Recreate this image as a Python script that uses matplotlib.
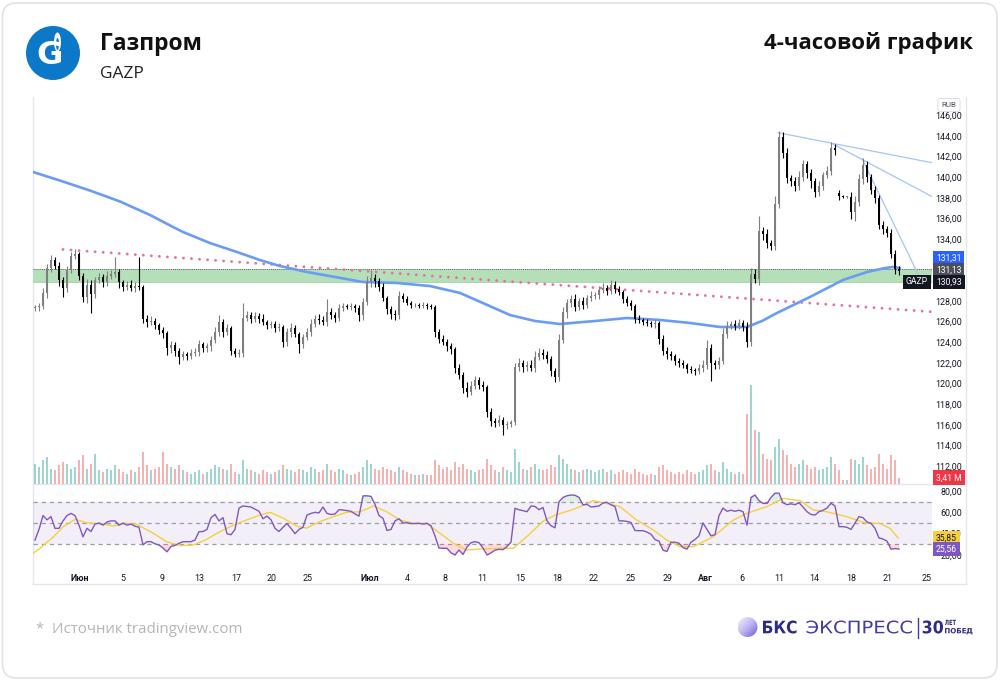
import numpy as np
import matplotlib.pyplot as plt
from matplotlib.patches import FancyBboxPatch, Circle, Ellipse, PathPatch
from matplotlib.colors import LinearSegmentedColormap
from matplotlib.ticker import FuncFormatter, FixedLocator
from matplotlib.textpath import TextPath
from matplotlib.font_manager import FontProperties
from matplotlib.transforms import Affine2D

plt.rcParams['font.family'] = ['Open Sans', 'DejaVu Sans']

W, H = 1000, 680

# 4h closes, GAZP, late May .. 22 Aug
CLOSE = [
    127.4, 127.5, 128.8, 131.2, 132.0, 131.4, 130.0, 129.3, 131.0, 132.4,
    132.6, 130.4, 128.4, 129.6, 128.7, 130.0, 130.3, 129.8, 130.4, 130.6,
    130.8, 129.8, 129.4, 129.6, 129.3, 129.5, 129.4, 126.3, 126.0, 126.1,
    125.7, 125.2, 124.9, 123.4, 123.7, 123.2, 122.6, 122.9, 122.7, 123.0,
    123.1, 123.8, 123.4, 123.6, 124.2, 125.0, 126.0, 125.0, 125.4, 123.2,
    122.9, 123.0, 126.4, 126.6, 126.3, 126.5, 126.3, 126.0, 125.7, 125.8,
    125.4, 125.5, 124.0, 125.0, 125.4, 124.8, 123.8, 124.5, 125.0, 125.8,
    126.3, 126.2, 126.0, 126.9, 126.6, 126.4, 127.3, 127.5, 127.4, 127.5,
    127.3, 126.6, 127.9, 129.8, 130.2, 129.9, 129.4, 128.3, 127.2, 126.7,
    126.6, 128.5, 128.2, 127.8, 127.6, 127.6, 127.5, 127.6, 127.5, 127.4,
    125.0, 124.3, 124.0, 123.6, 123.3, 121.5, 120.8, 119.6, 119.2, 119.8,
    120.3, 119.9, 119.7, 117.2, 116.4, 116.2, 116.5, 116.0, 116.1, 116.3,
    121.6, 122.0, 121.6, 121.8, 121.5, 122.6, 123.0, 122.8, 122.4, 121.2,
    120.6, 124.2, 126.9, 127.8, 128.2, 127.4, 128.0, 127.6, 128.3, 128.5,
    128.6, 129.1, 129.3, 129.0, 129.6, 129.2, 128.9, 128.2, 127.8, 127.5,
    126.3, 126.2, 126.0, 125.9, 125.8, 125.9, 124.3, 123.2, 122.9, 122.7,
    122.2, 122.0, 121.8, 121.4, 121.3, 121.2, 121.5, 121.8, 123.4, 122.0,
    121.8, 122.2, 124.8, 125.6, 125.8, 125.6, 125.9, 125.5, 124.0, 130.6,
    130.1, 134.8, 134.5, 133.6, 133.3, 137.4, 143.9, 142.4, 139.9, 139.6,
    139.2, 140.0, 141.3, 140.4, 139.6, 138.6, 139.2, 140.2, 140.6, 142.8,
    142.6, 138.2, 138.1, 138.1, 136.6, 137.6, 139.8, 141.2, 140.0, 138.8,
    138.0, 135.4, 135.0, 134.6, 132.6, 131.1, 130.93,
]
FIRST_OPEN = 127.3
GAP_OPEN = {201: 138.5}

# wick lengths above / below the body, tenths of a rouble
WICK_UP = [
    2, 3, 5, 4, 5, 3, 4, 3, 4, 4,
    4, 2, 3, 5, 4, 3, 4, 3, 5, 4,
    15, 3, 2, 3, 4, 3, 28, 2, 3, 4,
    3, 2, 3, 2, 4, 3, 2, 3, 2, 3,
    3, 4, 2, 3, 4, 5, 6, 3, 4, 2,
    2, 3, 14, 4, 3, 4, 3, 4, 2, 3,
    3, 4, 2, 4, 5, 3, 2, 3, 4, 5,
    3, 4, 3, 13, 4, 3, 4, 3, 2, 3,
    2, 3, 4, 6, 8, 4, 3, 3, 2, 3,
    4, 5, 3, 3, 2, 2, 2, 3, 2, 2,
    2, 3, 4, 3, 3, 2, 4, 3, 5, 4,
    4, 3, 3, 2, 4, 3, 4, 3, 3, 2,
    4, 5, 3, 4, 5, 6, 4, 3, 4, 3,
    3, 6, 5, 4, 4, 5, 3, 4, 3, 5,
    3, 4, 4, 3, 4, 3, 3, 2, 3, 3,
    2, 3, 2, 3, 2, 3, 2, 4, 3, 3,
    2, 3, 3, 2, 3, 2, 4, 5, 8, 4,
    3, 4, 6, 5, 3, 4, 4, 3, 5, 6,
    5, 14, 4, 5, 3, 8, 6, 5, 4, 3,
    4, 6, 4, 3, 4, 3, 4, 3, 5, 6,
    4, 3, 1, 1, 5, 6, 5, 7, 4, 3,
    4, 3, 4, 3, 4, 3, 3,
]
WICK_DN = [
    3, 4, 3, 5, 4, 3, 5, 9, 4, 3,
    3, 4, 5, 6, 19, 4, 3, 4, 3, 3,
    3, 5, 4, 3, 3, 4, 3, 4, 5, 3,
    4, 4, 5, 6, 4, 5, 7, 3, 4, 3,
    3, 4, 3, 3, 4, 3, 4, 5, 3, 4,
    3, 3, 4, 3, 4, 3, 4, 3, 4, 3,
    4, 3, 5, 4, 5, 3, 8, 4, 3, 4,
    3, 4, 3, 4, 3, 4, 3, 3, 2, 3,
    4, 5, 4, 3, 4, 5, 4, 3, 5, 4,
    4, 3, 3, 2, 3, 2, 2, 2, 3, 2,
    5, 4, 3, 4, 4, 5, 4, 5, 5, 3,
    3, 4, 4, 4, 5, 4, 3, 10, 4, 3,
    3, 4, 5, 4, 3, 4, 3, 4, 4, 5,
    5, 4, 3, 5, 4, 4, 3, 4, 3, 3,
    3, 4, 3, 4, 3, 4, 3, 4, 3, 4,
    4, 3, 3, 3, 3, 4, 5, 4, 5, 4,
    4, 4, 3, 4, 3, 4, 3, 4, 4, 18,
    4, 4, 3, 4, 3, 4, 3, 4, 5, 4,
    4, 5, 6, 5, 4, 4, 4, 5, 5, 4,
    5, 4, 4, 5, 6, 5, 4, 4, 3, 4,
    4, 4, 1, 1, 6, 8, 4, 5, 5, 4,
    5, 4, 5, 4, 4, 5, 4,
]

# volume, millions of shares
VOLUME = [
    12, 10, 14, 16, 9, 8, 11, 13, 12, 9,
    10, 14, 17, 9, 12, 18, 8, 7, 9, 8,
    11, 9, 7, 6, 8, 7, 10, 19, 11, 8,
    9, 10, 19, 12, 10, 9, 11, 8, 7, 6,
    7, 8, 6, 7, 9, 11, 10, 9, 8, 12,
    7, 6, 14, 9, 8, 7, 6, 8, 7, 6,
    7, 8, 11, 9, 8, 7, 9, 8, 7, 10,
    9, 7, 8, 12, 8, 7, 9, 8, 6, 5,
    6, 7, 10, 14, 12, 9, 8, 10, 9, 8,
    7, 10, 8, 7, 6, 5, 5, 6, 5, 5,
    14, 11, 9, 10, 8, 13, 10, 12, 9, 8,
    7, 8, 9, 15, 11, 8, 7, 10, 8, 7,
    21, 13, 9, 8, 10, 12, 9, 8, 9, 11,
    10, 17, 15, 12, 9, 8, 7, 8, 9, 8,
    7, 8, 9, 7, 8, 6, 7, 8, 7, 6,
    9, 7, 6, 5, 6, 5, 10, 11, 8, 7,
    6, 7, 6, 8, 7, 6, 7, 8, 11, 12,
    8, 7, 13, 9, 7, 6, 7, 6, 42, 59,
    32, 31, 18, 15, 14, 22, 27, 20, 17, 12,
    10, 12, 14, 11, 9, 10, 8, 9, 10, 16,
    12, 8, 2, 2, 15, 14, 12, 16, 11, 9,
    10, 18, 12, 9, 17, 14, 3.41,
]

# RSI(14)
RSI = [
    34, 44, 57, 53, 56, 45, 45, 52, 57, 59,
    57, 48, 37, 45, 42, 49, 50, 48, 51, 52,
    52, 48, 50, 48, 49, 47, 46, 29.5, 32.5, 32.5,
    30.5, 29.4, 26.5, 23, 28, 29, 31, 32.5, 32.5, 32.5,
    34, 41.9, 42, 44, 55, 58, 52, 55, 40, 39,
    44, 64, 66, 65.5, 65, 63, 61, 54, 56.5, 53,
    45, 42, 46, 49.5, 45, 40, 44, 46, 57.5, 59,
    60, 59.5, 65, 59, 58, 58.5, 62.5, 62.2, 61.6, 61,
    58.5, 56.5, 75.5, 75.5, 75, 67.5, 57, 54.4, 43, 44,
    52, 54, 50, 50.3, 49.5, 49.5, 49.7, 49, 49.7, 47.5,
    38, 26.5, 26.3, 26.3, 22, 20, 24.7, 20.5, 27.5, 31.5,
    32.5, 31.5, 26.5, 20, 22, 24.5, 25.3, 25, 28, 32,
    63.8, 62.4, 61.6, 60.6, 66, 65.5, 62.5, 64.5, 52, 47.5,
    45.5, 70, 74, 75.6, 76.3, 76, 74, 67, 67.5, 65,
    65.5, 66, 68.8, 69.5, 67, 65.5, 52, 52, 51.5, 50.5,
    43, 42.8, 42.8, 41.5, 39.5, 34.5, 33, 24.5, 23.3, 32,
    32, 31, 27, 25.5, 32, 34.5, 38, 50, 44, 38,
    39, 57, 64, 61, 62, 61, 62, 60.6, 48, 74,
    76.3, 71, 68.4, 68.4, 74, 78, 78, 69, 67.2, 68,
    67.2, 69, 65, 60.6, 58, 57.5, 60.6, 62, 64, 68.5,
    66, 46.6, 46.6, 46, 44, 50, 56, 55, 51, 49.7,
    45, 36, 35, 33, 25.5, 26, 25.56,
]

# RSI moving average (yellow), candle index / value
RSI_MA_X = [-0.5, 1.25, 4.6, 7.1, 10, 12.9, 17, 19.6, 22.9, 25.4, 29.6, 32.9,
            36.25, 39.6, 42.9, 46.25, 49.6, 52.9, 56.25, 58.75, 62.1, 65.4,
            67.9, 71.25, 74.6, 77.9, 81.25, 84.6, 87.9, 91.25, 94.6, 97.9,
            101.25, 104.6, 107.9, 111.25, 116.25, 119.6, 123.75, 127.1, 130.4,
            134, 136.25, 139.6, 142.9, 146.25, 150.4, 154.6, 157.9, 161.25,
            164.6, 169.6, 174.6, 177.9, 182.9, 187.1, 191.25, 194.6, 197.9,
            202.9, 207.9, 211.25, 213.75, 215.8]
RSI_MA_Y = [21.6, 26.3, 37, 46.6, 53.4, 50.3, 49, 47.2, 49.7, 48.8, 40.3, 32.5,
            28.8, 29.4, 34.7, 41.9, 48, 52.8, 57.5, 60, 54.5, 47,
            45.3, 51.3, 56, 60, 60.5, 66, 60.6, 52.8, 49.7, 49.7,
            40.3, 31, 24.7, 25.6, 26.3, 26.3, 40, 52, 58,
            62, 65.3, 71, 68.4, 65.3, 52.8, 43.4, 34.1, 27.8,
            27.8, 37.2, 52.8, 59, 65.3, 73.1, 71, 62.2, 60.6,
            56, 49.7, 49.7, 45, 35.85]

# long moving average (blue), candle index / price
SMA_X = [-0.5, 6.25, 13.75, 21.25, 28.75, 34.5, 37, 43.75, 50.5, 56.25,
         61.25, 68, 75, 82, 90.5, 98.75, 106.25, 112.5, 118.75, 125, 131.25,
         140, 148, 156.25, 163.75, 171.25, 178, 181.75, 185.5, 193.75, 202,
         208, 212.5, 214.5, 216.25]
SMA_Y = [140.51, 139.68, 138.71, 137.65, 136.34, 135.18, 134.69, 133.62,
         132.75, 131.97, 131.39, 130.81, 130.33, 129.84, 129.75, 129.45, 128.78,
         127.71, 126.64, 126.06, 125.77, 126.06, 126.35, 126.16, 125.87, 125.48,
         125.48, 126.06, 126.84, 128.39, 130.04, 130.81, 131.2, 131.3, 131.2]

ZONE_LOW, ZONE_HIGH = 129.8, 131.13
RES_X, RES_Y = [7, 224.25], [133.0, 126.95]
FAN = [([185.75, 224.25], [144.32, 141.41]),
       ([199.5, 224.25], [143.22, 138.13]),
       ([206.75, 221.0], [141.82, 130.42])]

TIME_POS = [11.25, 22, 31.75, 41, 50.25, 59.25, 68.25, 83.75, 93, 102.5, 111.75,
            121.25, 130.5, 139.75, 149, 158.25, 167.5, 176.75, 186, 194.75, 204,
            213.25, 223]
TIME_LBL = ['Июн', '5', '9', '13', '17', '20', '25', 'Июл', '4', '8', '11',
            '15', '18', '22', '25', '29', 'Авг', '6', '11', '14', '18', '21', '25']
MONTHS = ('Июн', 'Июл', 'Авг')
# 130 and 132 sit under the last-value tags, so they are not shown
PRICE_TICKS = [112, 114, 116, 118, 120, 122, 124, 126, 128, 134, 136, 138, 140,
               142, 144, 146]
RSI_TICKS = [20, 40, 60, 80]

LAST_SMA, LAST_LEVEL, LAST_CLOSE = 131.31, 131.13, 130.93
LAST_VOL = 3.41
LAST_RSI_MA, LAST_RSI = 35.85, 25.56

CHART_FONT = ['Roboto', 'DejaVu Sans']


def comma(v, _=None):
    return f'{v:.2f}'.replace('.', ',')


def rect(x0, y0, x1, y1):
    # pixel box (top-left origin) -> figure fraction
    return [x0 / W, 1 - y1 / H, (x1 - x0) / W, (y1 - y0) / H]


def tag(ax, y, text, fc, tc, dy=0, dx=4, ha='left'):
    ax.annotate(text, xy=(1, y), xycoords=('axes fraction', 'data'),
                xytext=(dx, dy), textcoords='offset pixels', ha=ha, va='center',
                fontsize=6.2, color=tc, family=CHART_FONT,
                bbox=dict(boxstyle='square,pad=0.34', fc=fc, ec='none'),
                annotation_clip=False, zorder=20)


def fit_text(ax, s, x0, x1, base, cap, color, weight='normal', family='DejaVu Sans'):
    # draw s as a path stretched into [x0, x1] with the given cap height (pixel coords)
    prop = FontProperties(family=family, weight=weight)
    tp = TextPath((0, 0), s, size=10, prop=prop)
    ext = tp.get_extents()
    cap_ref = TextPath((0, 0), 'Н', size=10, prop=prop).get_extents().height
    tr = (Affine2D().translate(-ext.x0, 0)
          .scale((x1 - x0) / ext.width, -cap / cap_ref)
          .translate(x0, base) + ax.transData)
    ax.add_patch(PathPatch(tp, fc=color, ec='none', transform=tr, zorder=4))


fig = plt.figure(figsize=(W / 100, H / 100), dpi=100, facecolor='white')

# background: card, header, footer
bg = fig.add_axes([0, 0, 1, 1], zorder=0)
bg.set_xlim(0, W)
bg.set_ylim(H, 0)
bg.set_axis_off()

bg.add_patch(FancyBboxPatch((2.5, 3), 994.5, 675, boxstyle='round,pad=0,rounding_size=14',
                            fc='white', ec='#e2e2e2', lw=1.2))

# gazprom logo
bg.add_patch(Circle((53, 53), 27, fc='#0b78c8', ec='none'))
bg.text(50, 56, 'G', color='white', fontsize=23, fontweight='bold',
        family='DejaVu Sans', ha='center', va='center')
bg.add_patch(Ellipse((57.5, 42), 7, 19, fc='white', ec='none'))
bg.add_patch(Ellipse((57.5, 44), 3, 12, fc='#0b78c8', ec='none'))

bg.text(100, 49.5, 'Газпром', fontsize=16.5, fontweight='bold', color='#111111', va='baseline')
bg.text(100, 78.5, 'GAZP', fontsize=12.5, color='#222222', va='baseline')
bg.text(973, 48.5, '4-часовой график', fontsize=16, fontweight='bold', color='#111111',
        ha='right', va='baseline')

bg.text(36, 633, '*  Источник tradingview.com', fontsize=10.8, color='#b5b5b5', va='baseline')

# bks logo
g = np.linspace(0, 1, 80)
gx, gy = np.meshgrid(g, g)
cm = LinearSegmentedColormap.from_list('bks', ['#f6f4ff', '#bdb4f2', '#6a59cf'])
im = bg.imshow((gx + gy) / 2, cmap=cm, extent=(737.5, 757.5, 637, 617),
               aspect='auto', zorder=3)
im.set_clip_path(Circle((747.5, 627), 10, transform=bg.transData))
bg.set_xlim(0, W)
bg.set_ylim(H, 0)
fit_text(bg, 'БКС', 763, 796.5, 633.3, 12.6, '#2e2b86', weight='bold')
fit_text(bg, 'ЭКСПРЕСС', 806.5, 912, 633.3, 12.6, '#433ca2')
bg.plot([918.3, 918.3], [618, 637.5], color='#433ca2', lw=1)
fit_text(bg, '30', 922.7, 943, 633.3, 12.6, '#2e2b86', weight='bold')
fit_text(bg, 'ЛЕТ', 945, 956, 625, 5.2, '#2e2b86', weight='bold')
fit_text(bg, 'ПОБЕ', 945, 966, 633.3, 5.2, '#2e2b86', weight='bold')
fit_text(bg, 'Д', 966.5, 972.5, 633.3, 5.2, '#2e2b86', weight='bold')

# chart frame
fc_line = '#e4e6ec'
bg.plot([33, 33], [97, 584], color=fc_line, lw=1)
bg.plot([966, 966], [97, 584], color=fc_line, lw=1)
bg.plot([33, 966], [584, 584], color=fc_line, lw=1)
bg.plot([33, 966], [483.8, 483.8], color=fc_line, lw=1)

# ---- price panel ----
n = len(CLOSE)
x = np.arange(n)
close = np.array(CLOSE)
opens = np.r_[FIRST_OPEN, close[:-1]]
for k, v in GAP_OPEN.items():
    opens[k] = v
high = np.maximum(opens, close) + np.array(WICK_UP) / 10
low = np.minimum(opens, close) - np.array(WICK_DN) / 10
up = close >= opens

XLIM = (-0.5, 224.25)
price_rect = rect(33, 97, 932, 483.5)

ax_vol = fig.add_axes(price_rect, zorder=1)
ax = fig.add_axes(price_rect, zorder=2, sharex=ax_vol)
ax.patch.set_alpha(0)

vol_col = np.where(up, '#26a69a', '#ef5350')
ax_vol.bar(x, VOLUME, width=0.66, color=vol_col, alpha=0.45, lw=0)
ax_vol.set_ylim(0, 386.5 * 0.6)
ax_vol.set_axis_off()

ax.set_xlim(*XLIM)
ax.set_ylim(110.303, 147.782)

ax.axhspan(ZONE_LOW, ZONE_HIGH, fc='#b5dfb8', ec='none', zorder=1)
ax.axhline(ZONE_LOW, color='#9ccfa0', lw=0.6, zorder=1)
ax.axhline(ZONE_HIGH, color='#3a3a3a', lw=0.6, ls=(0, (1, 1.5)), zorder=2)

ax.plot(RES_X, RES_Y, color='#e8739a', lw=2.1, ls=(0, (0.01, 2.75)),
        dash_capstyle='round', zorder=2)
ax.plot(SMA_X, SMA_Y, color='#6a9cf4', lw=1.9, solid_capstyle='round',
        solid_joinstyle='round', zorder=3)
for fx, fy in FAN:
    ax.plot(fx, fy, color='#a6c5f5', lw=0.9, zorder=3)

candle_col = np.where(up, '#7f7f7f', '#000000')
ax.vlines(x, low, high, colors=candle_col, lw=0.8, zorder=4)
ax.bar(x, np.maximum(np.abs(close - opens), 0.06), bottom=np.minimum(opens, close),
       width=0.7, color=candle_col, lw=0, zorder=5)

ax.yaxis.tick_right()
ax.yaxis.set_major_locator(FixedLocator(PRICE_TICKS))
ax.yaxis.set_major_formatter(FuncFormatter(comma))
ax.tick_params(axis='y', length=0, pad=21.6, labelsize=6.4, labelcolor='#131722')
for t in ax.get_yticklabels():
    t.set_horizontalalignment('right')
    t.set_family(CHART_FONT)
ax.tick_params(axis='x', bottom=False, labelbottom=False)
for s in ax.spines.values():
    s.set_visible(False)

ax.annotate('RUB', xy=(1, 1), xycoords='axes fraction', xytext=(17, -8),
            textcoords='offset pixels', ha='center', va='center', fontsize=5.8,
            color='#50535e', family=CHART_FONT,
            bbox=dict(boxstyle='round,pad=0.45,rounding_size=0.3', fc='white', ec='#d6d9e0', lw=0.6),
            annotation_clip=False, zorder=20)

tag(ax, LAST_SMA, comma(LAST_SMA), '#2962ff', 'white', dy=8.4)
tag(ax, LAST_LEVEL, comma(LAST_LEVEL), '#4c4f59', 'white', dy=-1.3)
tag(ax, LAST_CLOSE, comma(LAST_CLOSE), '#131722', 'white', dy=-11.2)
tag(ax, LAST_CLOSE, 'GAZP', '#131722', 'white', dy=-11.2, dx=-4, ha='right')
tag(ax_vol, LAST_VOL, comma(LAST_VOL) + ' M', '#f23645', 'white')

# ---- RSI panel ----
ax_r = fig.add_axes(rect(33, 484, 932, 566), zorder=2, sharex=ax_vol)
ax_r.patch.set_alpha(0)
ax_r.set_ylim(9.68, 86.6)
rsi = np.array(RSI)
ax_r.axhspan(30, 70, fc='#7e57c2', alpha=0.09, ec='none', zorder=1)
for lv in (70, 50, 30):
    ax_r.axhline(lv, color='#9b9ea8', lw=0.9, ls=(0, (3.5, 3)), zorder=2)
ax_r.fill_between(x, rsi, 70, where=rsi > 70, interpolate=True, color='#4caf50',
                  alpha=0.18, lw=0, zorder=2)
ax_r.fill_between(x, rsi, 30, where=rsi < 30, interpolate=True, color='#f23645',
                  alpha=0.18, lw=0, zorder=2)
ax_r.plot(RSI_MA_X, RSI_MA_Y, color='#f7cf3c', lw=1.0, zorder=3)
ax_r.plot(x, rsi, color='#7e57c2', lw=1.0, zorder=4)

ax_r.yaxis.tick_right()
ax_r.yaxis.set_major_locator(FixedLocator(RSI_TICKS))
ax_r.yaxis.set_major_formatter(FuncFormatter(comma))
ax_r.tick_params(axis='y', length=0, pad=21.6, labelsize=6.4, labelcolor='#131722')
for t in ax_r.get_yticklabels():
    t.set_horizontalalignment('right')
    t.set_family(CHART_FONT)

ax_r.xaxis.set_major_locator(FixedLocator(TIME_POS))
ax_r.set_xticklabels(TIME_LBL)
ax_r.tick_params(axis='x', length=0, pad=5.5, labelsize=6.4, labelcolor='#131722')
for t in ax_r.get_xticklabels():
    t.set_family(CHART_FONT)
    if t.get_text() in MONTHS:
        t.set_fontweight('bold')
for s in ax_r.spines.values():
    s.set_visible(False)
ax_r.set_xlim(*XLIM)

tag(ax_r, LAST_RSI_MA, comma(LAST_RSI_MA), '#f7cf3c', '#131722')
tag(ax_r, LAST_RSI, comma(LAST_RSI), '#7e57c2', 'white')

fig.savefig('out.png', dpi=100, facecolor='white')
